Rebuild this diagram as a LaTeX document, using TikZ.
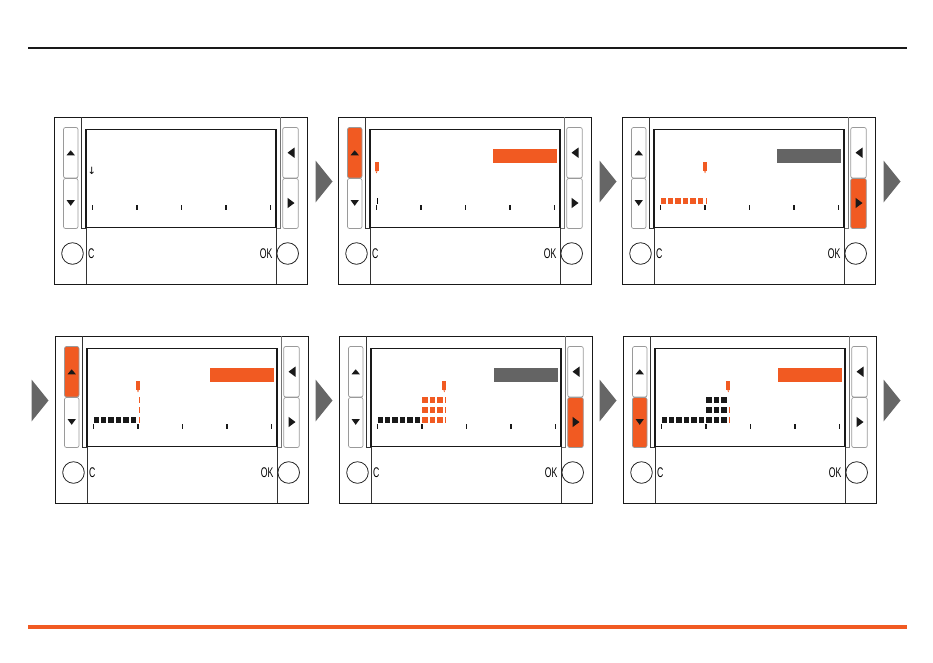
\documentclass[tikz,border=0pt]{standalone}
\usepackage{fontspec}
\setmainfont{Liberation Sans}
\newfontfamily\dejavu{DejaVu Sans}
\definecolor{org}{HTML}{F15A22}
\definecolor{gry}{HTML}{646464}
\definecolor{arr}{HTML}{666666}
\definecolor{btn}{HTML}{9A9A9A}
\tikzset{
 outerframe/.style={line width=1pt, draw=black!90},
 innerframe/.style={line width=0.8pt, draw=black!80},
 screenbox/.style={line width=1.6pt, draw=black!90},
 btnbox/.style={draw=btn, line width=0.7pt, rounded corners=2pt},
 tri/.style={fill=black!90, draw=none},
 knob/.style={draw=black!85, line width=0.8pt},
 lbl/.style={font=\fontsize{14}{14}\selectfont, inner sep=0pt},
 tickmark/.style={line width=1.1pt, draw=black!90},
 flowarrow/.style={fill=arr, draw=none}
}
% panel base: #1 up fill, #2 down fill, #3 right fill, #4 id
\newcommand\PanelBase[4]{%
  \draw[outerframe] (0,0) rectangle (253,167);
  \draw[innerframe] (27.7,0) -- (27.7,111.5) -- (32,111.5);
  \draw[innerframe, draw=black!55] (226,0) -- (226,111.5) -- (222,111.5);
  \draw[innerframe] (32,111) -- (32,167) (222,111) -- (222,167);
  \filldraw[btnbox, fill=#1] (9.5,10.5) rectangle (24,61);
  \filldraw[btnbox, fill=#2] (9.5,61.5) rectangle (24,111.5);
  \filldraw[btnbox, fill=white] (228.7,10.5) rectangle (244.3,61);
  \filldraw[btnbox, fill=#3] (228.7,61.5) rectangle (244.3,111.5);
  \fill[tri] (12.5,38.3) -- (20.9,38.3) -- (16.7,33.3) -- cycle;
  \fill[tri] (12.5,83) -- (20.9,83) -- (16.7,88.8) -- cycle;
  \fill[tri] (233.5,35.7) -- (240.5,30.5) -- (240.5,40.9) -- cycle;
  \fill[tri] (240.5,86) -- (233.5,80.8) -- (233.5,91.2) -- cycle;
  \draw[screenbox] (32,12.3) rectangle (222,110.3);
  \foreach \t in {0,...,4} \draw[tickmark] ({38.5+\t*44.5},88) -- ++(0,5);
  \draw[knob] (18.5,136.5) circle[radius=10.8pt];
  \draw[knob] (233.7,136.5) circle[radius=10.8pt];
  \node[lbl, anchor=west] (c-#4) at (33.8,137) {\scalebox{0.62}[1]{C}};
  \node[lbl, anchor=east] (ok-#4) at (218.7,137) {\scalebox{0.62}[1]{OK}};
}
\newcommand\Sq[3]{\fill[#3] ({38.5+#1*7.46},{81-#2*10}) rectangle ++(5.4,5.5);}
\newcommand\Bar[3]{\fill[#3] ({39+#1*7.42},{81-#2*10}) rectangle ++(1.3,5.5);}
\newcommand\Mark[2]{\fill[#2] ({36.5+#1*7.42},45.3) rectangle ++(4,9);
  \fill[#2] ({37.5+#1*7.42},54.3) -- ++(2,0) -- ++(-1,2) -- cycle;}
\newcommand\LBox[1]{\fill[#1] (155,31.7) rectangle (218.5,45.5);}
\begin{document}
\begin{tikzpicture}[x=1pt,y=-1pt]
\useasboundingbox (0,0) rectangle (933,662);
\fill[black!90] (28,47) rectangle (907,49);
\fill[org] (28,624.5) rectangle (907,628.5);
% flow arrows
\foreach \ax in {315.5,599.5,883.5} \fill[flowarrow] (\ax,160.5) -- ++(17,21) -- ++(-17,21) -- cycle;
\foreach \ax in {31.5,315.5,599.5,883.5} \fill[flowarrow] (\ax,379.5) -- ++(17,21) -- ++(-17,21) -- cycle;
% panel 1
\begin{scope}[shift={(54,117)}]
  \PanelBase{white}{white}{white}{1}
  \node[font=\dejavu\fontsize{10}{10}\selectfont, inner sep=0pt] (down-1) at (37.7,53.7) {↓};
\end{scope}
% panel 2
\begin{scope}[shift={(338,117)}]
  \PanelBase{org}{white}{white}{2}
  \LBox{org}
  \Mark{0}{org}
  \Bar{0}{0}{black}
\end{scope}
% panel 3
\begin{scope}[shift={(622,117)}]
  \PanelBase{white}{white}{org}{3}
  \LBox{gry}
  \Mark{6}{org}
  \foreach \k in {0,...,5} {\Sq{\k}{0}{org}}
  \Bar{6}{0}{org}
\end{scope}
% panel 4
\begin{scope}[shift={(55,336)}]
  \PanelBase{org}{white}{white}{4}
  \LBox{org}
  \Mark{6}{org}
  \foreach \k in {0,...,5} {\Sq{\k}{0}{black!90}}
  \foreach \r in {0,1,2} {\Bar{6}{\r}{org}}
\end{scope}
% panel 5
\begin{scope}[shift={(339,336)}]
  \PanelBase{white}{white}{org}{5}
  \LBox{gry}
  \Mark{9}{org}
  \foreach \k in {0,...,5} {\Sq{\k}{0}{black!90}}
  \foreach \k in {6,7,8} {\foreach \r in {0,1,2} {\Sq{\k}{\r}{org}}}
  \foreach \r in {0,1,2} {\Bar{9}{\r}{org}}
\end{scope}
% panel 6
\begin{scope}[shift={(623,336)}]
  \PanelBase{white}{org}{white}{6}
  \LBox{org}
  \Mark{9}{org}
  \foreach \k in {0,...,8} {\Sq{\k}{0}{black!90}}
  \foreach \k in {6,7,8} {\foreach \r in {1,2} {\Sq{\k}{\r}{black!90}}}
  \foreach \r in {0,1} {\Bar{9}{\r}{org}}
\end{scope}
\end{tikzpicture}
\end{document}
